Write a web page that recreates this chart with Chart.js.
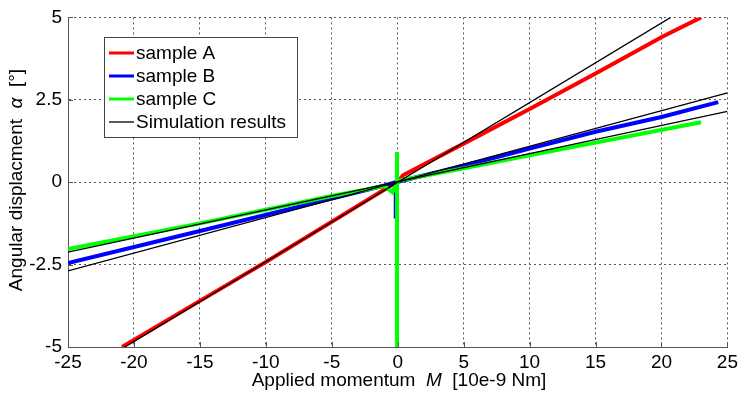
<!DOCTYPE html>
<html>
<head>
<meta charset="utf-8">
<script src="https://cdn.jsdelivr.net/npm/chart.js@4"></script>
<style>
  html, body { margin: 0; padding: 0; background: #fff; }
  #wrap { width: 742px; height: 395px; }
</style>
</head>
<body>
<div id="wrap"><canvas id="myChart" width="742" height="395"></canvas></div>
<script>
// measured curves (M in 10e-9 Nm, alpha in degrees)
var sampleA_M     = [-20.9, -15, -10, -5, -1, -0.3, 0.1, 0.4, 5, 10, 15, 20.1, 23.0];
var sampleA_alpha = [-5, -3.6, -2.42, -1.2, -0.22, -0.05, 0.05, 0.21, 1.17, 2.22, 3.3, 4.42, 5.0];

var sampleB_M     = [-25, -15, -5, -1, -0.15, -0.15, -0.15, 0.1, 5, 10, 15, 20, 24.3];
var sampleB_alpha = [-2.45, -1.48, -0.5, -0.1, 0, -1.1, 0, 0.02, 0.5, 1.02, 1.53, 1.98, 2.43];

var sampleC_M     = [-25, -15, -5, -1, -0.4, -0.05, -0.05, -0.05, -0.05, 0.1, 0.5, 5, 10, 15, 23.0];
var sampleC_alpha = [-2.03, -1.25, -0.42, -0.12, -0.3, 0, 0.92, -5, 0, 0.05, 0.08, 0.42, 0.82, 1.2, 1.82];

// simulation lines (end points)
var simA_M = [-20.7, 20.7], simA_alpha = [-5, 5];
var simB_M = [-25, 25],     simB_alpha = [-2.69, 2.71];
var simC_M = [-25, 25],     simC_alpha = [-2.12, 2.15];

var xTicks = [-25, -20, -15, -10, -5, 0, 5, 10, 15, 20, 25];
var yTicks = [-5, -2.5, 0, 2.5, 5];

var legendNames  = ["sample A", "sample B", "sample C", "Simulation results"];
var legendColors = ["#ff0000", "#0000ff", "#00ff00", "#000000"];

function pts(xs, ys) {
    return xs.map(function (x, i) { return { x: x, y: ys[i] }; });
}

var FONT = "'Liberation Sans', Arial, sans-serif";

function line(data, color, width, order) {
    return {
        data: data,
        showLine: true,
        borderColor: color,
        borderWidth: width,
        pointRadius: 0,
        tension: 0,
        order: order
    };
}

var extras = {
    id: "extras",
    afterDraw: function (chart) {
        var ctx = chart.ctx;
        var a = chart.chartArea;
        var xs = chart.scales.x, ys = chart.scales.y;
        ctx.save();

        // small inward tick marks
        ctx.strokeStyle = "#555";
        ctx.lineWidth = 1;
        ctx.beginPath();
        xTicks.forEach(function (v) {
            var px = Math.round(xs.getPixelForValue(v)) + 0.5;
            ctx.moveTo(px, a.bottom); ctx.lineTo(px, a.bottom - 5);
        });
        yTicks.forEach(function (v) {
            var py = Math.round(ys.getPixelForValue(v)) + 0.5;
            ctx.moveTo(a.left, py); ctx.lineTo(a.left + 5, py);
        });
        ctx.stroke();

        // legend box
        ctx.fillStyle = "#fff";
        ctx.fillRect(104, 37, 193, 100);
        ctx.strokeStyle = "#444";
        ctx.strokeRect(104.5, 37.5, 193, 100);
        ctx.font = "19px " + FONT;
        ctx.textBaseline = "middle";
        ctx.textAlign = "left";
        for (var i = 0; i < legendNames.length; i++) {
            var y = 53 + i * 23;
            ctx.strokeStyle = legendColors[i];
            ctx.lineWidth = i < 3 ? 3 : 1.3;
            ctx.beginPath();
            ctx.moveTo(109, y); ctx.lineTo(134, y);
            ctx.stroke();
            ctx.fillStyle = "#000";
            ctx.fillText(legendNames[i], 136, y + 1);
        }

        // axis titles with italic symbols
        function drawParts(parts, cx, cy) {
            var w = 0;
            parts.forEach(function (p) {
                ctx.font = (p[1] ? "italic " : "") + "19px " + FONT;
                w += ctx.measureText(p[0]).width;
            });
            var x = cx - w / 2;
            parts.forEach(function (p) {
                ctx.font = (p[1] ? "italic " : "") + "19px " + FONT;
                ctx.fillText(p[0], x, cy);
                x += ctx.measureText(p[0]).width;
            });
        }
        ctx.fillStyle = "#000";
        ctx.textBaseline = "middle";
        drawParts([["Applied momentum  ", false], ["M", true], ["  [10e-9 Nm]", false]], 399, 381);

        ctx.translate(17, 180);
        ctx.rotate(-Math.PI / 2);
        drawParts([["Angular displacment  ", false], ["\u03b1", true], ["  [\u00b0]", false]], 0, 0);
        ctx.restore();
    }
};

new Chart("myChart", {
    type: "scatter",
    data: {
        datasets: [
            line(pts(simA_M, simA_alpha), "#000000", 1.3, 0),
            line(pts(simB_M, simB_alpha), "#000000", 1.3, 0),
            line(pts(simC_M, simC_alpha), "#000000", 1.3, 0),
            line(pts(sampleC_M, sampleC_alpha), "#00ff00", 4, 1),
            line(pts(sampleB_M, sampleB_alpha), "#0000ff", 4, 2),
            line(pts(sampleA_M, sampleA_alpha), "#ff0000", 4, 3)
        ]
    },
    options: {
        responsive: false,
        animation: false,
        layout: { padding: { top: 13, right: 10, left: 0, bottom: 0 } },
        plugins: {
            legend: { display: false },
            tooltip: { enabled: false }
        },
        scales: {
            x: {
                type: "linear",
                min: -25, max: 25,
                afterBuildTicks: function (s) { s.ticks = xTicks.map(function (v) { return { value: v }; }); },
                afterFit: function (s) { s.height = 48; },
                ticks: { color: "#000", font: { family: FONT, size: 19 }, padding: 4, maxRotation: 0 },
                grid: { color: "#555", drawTicks: false, lineWidth: 1 },
                border: { color: "#555", width: 1, dash: [2, 3] }
            },
            y: {
                type: "linear",
                min: -5, max: 5,
                afterBuildTicks: function (s) { s.ticks = yTicks.map(function (v) { return { value: v }; }); },
                afterFit: function (s) { s.width = 68; },
                ticks: { color: "#000", font: { family: FONT, size: 19 }, padding: 6 },
                grid: { color: "#555", drawTicks: false, lineWidth: 1 },
                border: { color: "#555", width: 1, dash: [2, 3] }
            }
        }
    },
    plugins: [extras]
});
</script>
</body>
</html>
